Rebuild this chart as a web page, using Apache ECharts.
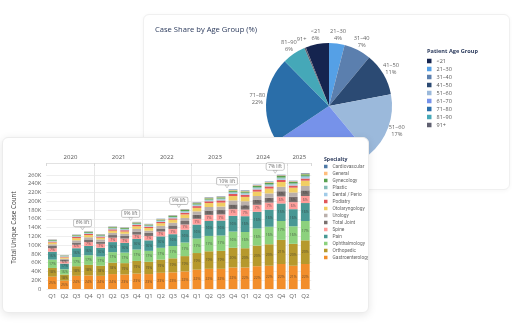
<!DOCTYPE html>
<html><head><meta charset="utf-8">
<script src="https://cdn.jsdelivr.net/npm/echarts@6/dist/echarts.min.js"></script>
<style>
html,body{margin:0;padding:0;background:#fff;width:512px;height:327px;overflow:hidden;font-family:'Open Sans',sans-serif;}
.card{position:absolute;width:367px;height:176px;background:#fff;border-radius:6px;box-sizing:border-box;}
#pieCard{left:143px;top:14px;border:1px solid #f0f0f0;box-shadow:0 1px 4px rgba(0,0,0,0.04);z-index:1}
#barCard{left:2px;top:137px;border:1px solid #ececec;box-shadow:0 2px 8px rgba(0,0,0,0.10);z-index:2}
#pie,#bar{width:365px;height:174px}
</style></head>
<body>
<div class="card" id="pieCard"><div id="pie"></div></div>
<div class="card" id="barCard"><div id="bar"></div></div>
<script>
// ---------- Pie data (share of cases, %) ----------
const ageGroups = ['<21','21–30','31–40','41–50','51–60','61–70','71–80','81–90','91+'];
const ageShare = [6, 4, 7, 11, 17, 26.6, 22, 6, 0.4];
const ageColors = ['#15244f','#55a0e6','#5b7fae','#2b4a73','#9bb9db','#7692ea','#2a6ea9','#45a8b8','#5f6070'];

// ---------- Bar data (thousands of cases) ----------
const quarters = ['Q1','Q2','Q3','Q4','Q1','Q2','Q3','Q4','Q1','Q2','Q3','Q4','Q1','Q2','Q3','Q4','Q1','Q2','Q3','Q4','Q1','Q2'];
const years = ['2020','2021','2022','2023','2024','2025'];
const quartersPerYear = [4,4,4,4,4,2];
const liftLabels = ['6% lift','9% lift','9% lift','10% lift','7% lift'];
const yTicks = [0,20,40,60,80,100,120,140,160,180,200,220,240,260,280];

const gastro = [28,19,30,31,30,34,33,35,34,37,38,40,44,46,46,49,49,52,53,57,53,57];
const ortho = [20,14,22,24,23,26,26,29,28,30,32,35,38,40,41,45,44,47,49,55,50,54];
const ophth = [19,12,21,22,21,24,24,26,25,27,28,31,33,35,35,37,37,39,40,43,40,44];
const pain = [18,13,20,21,20,23,22,24,24,26,27,29,32,34,34,36,36,38,39,40,39,41];
const spine = [8,5,8,9,9,10,10,10,10,11,12,12,13,14,14,15,15,16,16,16,16,16];
const totalJoint = [5,3,5,6,5,6,6,7,7,7,8,8,9,10,10,11,10,11,11,12,12,13];
const urology = [4,3,5,5,5,5,5,6,5,6,6,7,8,8,8,9,9,9,10,10,10,10];
const otolaryngology = [4,3,5,5,4,5,5,6,6,6,7,8,8,9,9,10,10,10,11,11,11,12];
const podiatry = [2,1.5,2.5,2.5,2.5,3,3,3,3,3,3,4,4,4,5,5,5,5,5,5,5,5];
const dental = [1.2,0.8,1.3,1.4,1.3,1.5,1.5,1.6,1.5,1.7,1.8,2,2,2,2.2,2.3,2.3,2.5,2.5,2.6,2.5,3.5];
const plastic = [1,0.8,1.2,1.3,1.2,1.4,1.4,1.5,1.4,1.5,1.6,1.8,1.9,2,2,2.2,2.2,2.4,2.4,2.5,2.4,2.6];
const gynecology = [1.5,1,1.7,1.8,1.7,2,2,2.1,2,2.2,2.3,2.5,2.7,2.8,2.9,3.1,3,3.2,3.3,3.5,3.3,3.5];
const general = [0.7,0.5,0.8,0.8,0.8,0.9,0.9,1,0.9,1,1,1.1,1.2,1.3,1.3,1.4,1.4,1.5,1.5,1.6,1.5,1.6];
const cardio = [0.6,0.4,0.6,0.7,0.6,0.7,0.7,0.8,0.7,0.8,0.8,0.9,1,1,1,1.1,1.1,1.2,1.2,1.3,1.2,1.3];

const specialties = ['Gastroenterology','Orthopedic','Ophthalmology','Pain','Spine','Total Joint','Urology','Otolaryngology','Podiatry','Dental / Perio','Plastic','Gynecology','General','Cardiovascular'];
const specialtyData = [gastro,ortho,ophth,pain,spine,totalJoint,urology,otolaryngology,podiatry,dental,plastic,gynecology,general,cardio];
const specialtyColors = ['#f28e2b','#b6992d','#8cd17d','#499894','#ff9d9a','#79706e','#bab0ac','#f1ce63','#e15759','#a0cbe8','#86bcb6','#59a14f','#ffbe7d','#4e79a7'];

const FONT = 'Open Sans';
const NAVY = '#2b3a5c';

// ---------- Pie chart ----------
const shareSum = ageShare.reduce((a,b)=>a+b,0);
const pie = echarts.init(document.getElementById('pie'), null, {renderer:'canvas'});
pie.setOption({
  animation:false,
  textStyle:{fontFamily:FONT},
  title:[
    {text:'Case Share by Age Group (%)', left:11, top:11, padding:0, textStyle:{fontSize:7.6, fontWeight:'normal', color:NAVY, fontFamily:FONT}},
    {text:'Patient Age Group', left:283, top:33, padding:0, textStyle:{fontSize:5.6, fontWeight:'bold', color:NAVY, fontFamily:FONT}}
  ],
  legend:{orient:'vertical', left:283, top:43, padding:0, itemWidth:4.5, itemHeight:4.5, itemGap:2, icon:'rect',
    textStyle:{fontSize:5.5, color:'#555', lineHeight:6, fontFamily:FONT}, data:ageGroups},
  series:[{
    type:'pie', center:[185,91], radius:63, clockwise:true,
    startAngle: 90 + ageShare[0]/shareSum*360,
    avoidLabelOverlap:false,
    label:{show:true, position:'outside', distanceToLabelLine:0, fontSize:5.7, lineHeight:7, color:'#666', fontFamily:FONT,
      formatter:p=> p.percent < 1 ? p.name : p.name+'\n'+Math.round(p.percent)+'%'},
    labelLine:{show:false, length:9, length2:0},
    labelLayout:{align:'center', verticalAlign:'middle', hideOverlap:false},
    emphasis:{disabled:true},
    data: ageGroups.map((n,i)=>({name:n, value:ageShare[i], itemStyle:{color:ageColors[i]}}))
  }]
});

// ---------- Bar chart ----------
const totals = quarters.map((_,i)=>specialtyData.reduce((s,arr)=>s+arr[i],0));
const yearStarts = [];
let acc = 0;
quartersPerYear.forEach(c=>{yearStarts.push(acc); acc+=c;});
const yearAxisData = Array.from({length:quarters.length+1},()=> '');
years.forEach((y,i)=>{ yearAxisData[yearStarts[i] + quartersPerYear[i]/2] = y; });
const yearBoundaries = yearStarts.slice(1);
const edgeTicks = [0].concat(yearBoundaries, [quarters.length]);

const liftData = liftLabels.map((t,i)=>{
  const q4 = yearStarts[i] + 3;
  return {value:[q4, totals[q4]], label:{formatter:t}};
});

const barSeries = specialties.map((name,i)=>({
  type:'bar', name, stack:'total', data:specialtyData[i], barWidth:'73%',
  xAxisIndex:0, yAxisIndex:0,
  itemStyle:{color:specialtyColors[i]},
  emphasis:{disabled:true},
  label:{show:i<6, position:'inside', fontSize:3.5, color:'rgba(50,50,50,0.7)', fontFamily:FONT,
    formatter:p=>{ if(i===5 && p.value<9) return ''; return Math.round(p.value/totals[p.dataIndex]*100)+'%'; }}
}));

barSeries.push({
  type:'scatter', name:'lift', xAxisIndex:1, yAxisIndex:0, z:10,
  symbol:'triangle', symbolRotate:180, symbolSize:[4,3], symbolOffset:[0,-3],
  itemStyle:{color:'#fff', borderColor:'#999', borderWidth:0.6},
  label:{show:true, position:'top', distance:0, fontSize:4.8, color:'#444', fontFamily:FONT,
    backgroundColor:'#fff', borderColor:'#9a9a9a', borderWidth:0.6, borderRadius:1.5, padding:[1,2,1,2]},
  data:liftData
});

const bar = echarts.init(document.getElementById('bar'), null, {renderer:'canvas'});
bar.setOption({
  animation:false,
  textStyle:{fontFamily:FONT},
  title:{text:'Specialty', left:321, top:19, padding:0, textStyle:{fontSize:5.2, fontWeight:'bold', color:NAVY, fontFamily:FONT}},
  legend:{orient:'vertical', left:321, top:26, padding:0, itemWidth:3.5, itemHeight:3.5, itemGap:2, icon:'rect',
    textStyle:{fontSize:4.8, lineHeight:5, color:'#666', fontFamily:'Roboto'},
    data: specialties.slice().reverse()},
  grid:{left:29.7, right:56.7, top:28.2, bottom:23},
  xAxis:[
    {type:'category', data:quarters, position:'bottom',
      axisLine:{show:false}, axisTick:{show:false},
      axisLabel:{fontSize:6, color:'#666', margin:4, interval:0, fontFamily:FONT}},
    {type:'category', data:yearAxisData, boundaryGap:false, position:'top', offset:3.2,
      axisLine:{show:true, lineStyle:{color:'#e2e2e2', width:1}},
      axisTick:{show:true, inside:true, length:3, lineStyle:{color:'#d8d8d8'}, interval:(idx)=>edgeTicks.indexOf(idx)>=0},
      axisLabel:{show:true, interval:0, fontSize:6, color:'#555', margin:3, fontFamily:FONT},
      splitLine:{show:true, interval:(idx)=>yearBoundaries.indexOf(idx)>=0, lineStyle:{color:'#e6e6e6', width:1}}}
  ],
  yAxis:{type:'value', min:yTicks[0], max:yTicks[yTicks.length-1], interval:yTicks[1]-yTicks[0],
    name:'Total Unique Case Count', nameLocation:'middle', nameGap:18,
    nameTextStyle:{fontSize:6.3, color:'#3a3a3a', fontFamily:FONT},
    axisLine:{show:false}, axisTick:{show:false},
    axisLabel:{fontSize:5.8, color:'#666', margin:5, showMaxLabel:false, fontFamily:FONT,
      formatter:v=> v===0 ? '0' : v+'K'},
    splitLine:{show:true, showMaxLine:false, lineStyle:{color:'#eeeeee', width:1}}},
  series:barSeries
});
</script>
</body></html>
